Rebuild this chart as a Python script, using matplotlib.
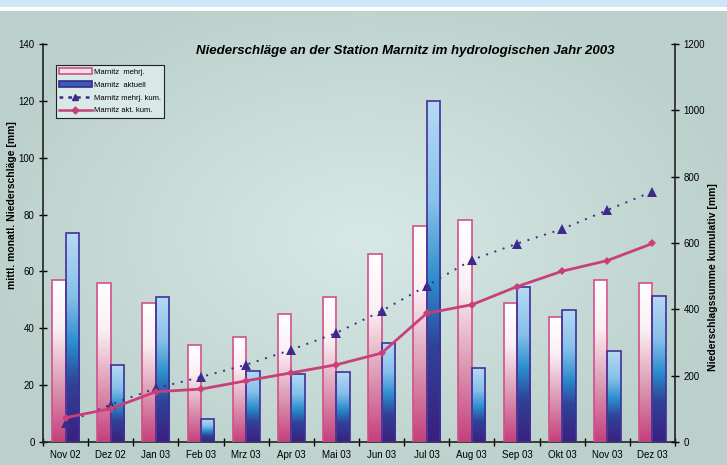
import numpy as np
import matplotlib
matplotlib.use("Agg")
import matplotlib.pyplot as plt
from matplotlib.colors import LinearSegmentedColormap
from matplotlib.patches import Patch, Rectangle
from matplotlib.lines import Line2D

plt.rcParams['font.family'] = ['Liberation Sans', 'DejaVu Sans']

months = ["Nov 02", "Dez 02", "Jan 03", "Feb 03", "Mrz 03", "Apr 03", "Mai 03",
          "Jun 03", "Jul 03", "Aug 03", "Sep 03", "Okt 03", "Nov 03", "Dez 03"]
mehrj = [57, 56, 49, 34, 37, 45, 51, 66, 76, 78, 49, 44, 57, 56]
aktuell = [73.5, 27, 51, 8, 25, 24, 24.5, 35, 120, 26, 54.5, 46.5, 32, 51.5]
mehrj_kum = [57, 113, 162, 196, 233, 278, 329, 395, 471, 549, 598, 642, 699, 755]
akt_kum = [73.5, 100.5, 151.5, 159.5, 184.5, 208.5, 233, 268, 388, 414, 468.5, 515, 547, 598.5]

title = "Niederschläge an der Station Marnitz im hydrologischen Jahr 2003"

W, H = 727, 465
fig = plt.figure(figsize=(W / 100, H / 100), dpi=100)

# background: light blue band, white line, grey-green gradient
bg = fig.add_axes([0, 0, 1, 1], zorder=-10)
bg.set_xlim(0, W)
bg.set_ylim(H, 0)
bg.axis("off")
xx, yy = np.meshgrid(np.linspace(-1, 1, 300), np.linspace(-1, 1, 200))
r = np.clip(np.sqrt((xx * 0.95) ** 2 + (yy * 0.9) ** 2), 0, 1)
c_out = np.array([0.737, 0.816, 0.800])
c_in = np.array([0.843, 0.914, 0.902])
img = c_in[None, None, :] * (1 - r[..., None]) + c_out[None, None, :] * r[..., None]
bg.imshow(img, extent=(0, W, H, 11), aspect="auto", interpolation="bilinear")
bg.add_patch(Rectangle((0, 0), W, 7.5, color="#cde6f8", lw=0))
bg.add_patch(Rectangle((0, 7.5), W, 3.5, color="#ffffff", lw=0))

ax = fig.add_axes([43 / W, 1 - 442 / H, (675 - 43) / W, (442 - 44) / H])
ax.patch.set_alpha(0)
ax2 = ax.twinx()

x = np.arange(len(months))
bw = 0.297
pink_cmap = LinearSegmentedColormap.from_list(
    "pk", [(0, "#c43f7c"), (0.35, "#dc9ab3"), (0.7, "#faf0f3"), (1, "#ffffff")])
blue_cmap = LinearSegmentedColormap.from_list(
    "bl", [(0, "#3b1f7f"), (0.28, "#2f4398"), (0.47, "#2a8ccc"), (0.7, "#86c0ea"), (1, "#b6d9f3")])

bars1 = ax.bar(x - bw / 2, mehrj, bw, facecolor="none", edgecolor="#d2508a", lw=1.2, zorder=3)
bars2 = ax.bar(x + bw / 2, aktuell, bw, facecolor="none", edgecolor="#40309a", lw=1.2, zorder=3)
grad = np.linspace(0, 1, 256).reshape(-1, 1)
for bars, cmap in ((bars1, pink_cmap), (bars2, blue_cmap)):
    for b in bars:
        x0, y0 = b.get_x(), b.get_y()
        im = ax.imshow(grad, cmap=cmap, origin="lower", aspect="auto",
                       extent=(x0, x0 + b.get_width(), y0, y0 + b.get_height()),
                       interpolation="bilinear", zorder=2)
        im.set_clip_path(b)

ax.set_xlim(-0.5, len(months) - 0.5)
ax.set_ylim(0, 140)
ax.set_yticks(range(0, 141, 20))
ax.set_xticks(x)
ax.set_xticklabels(months)
ax.set_xticks(np.arange(-0.5, len(months) + 0.5, 1), minor=True)
ax.tick_params(axis="x", which="major", length=0, labelsize=7, pad=6)
ax.tick_params(axis="x", which="minor", direction="inout", length=6, width=1)
ax.tick_params(axis="y", direction="inout", length=6, width=1, labelsize=7, pad=3)
for s in ("top", "right"):
    ax.spines[s].set_visible(False)
for s in ("left", "bottom"):
    ax.spines[s].set_linewidth(1.2)
    ax.spines[s].set_color("#222222")

ax2.plot(x, mehrj_kum, ls=(0, (1, 3.5)), lw=1.4, color="#3d2a8a",
         marker="^", ms=7, markeredgewidth=0, zorder=4)
ax2.plot(x, akt_kum, ls="-", lw=2, color="#c8407a",
         marker="D", ms=4, markeredgewidth=0, zorder=5)
ax2.set_ylim(0, 1200)
ax2.set_yticks(range(0, 1201, 200))
ax2.tick_params(axis="y", direction="inout", length=6, width=1, labelsize=7, pad=3)
for s in ("top", "left", "bottom"):
    ax2.spines[s].set_visible(False)
ax2.spines["right"].set_linewidth(1.2)
ax2.spines["right"].set_color("#222222")

handles = [
    Patch(facecolor="#f6dde6", edgecolor="#d2508a", lw=1.2),
    Patch(facecolor="#3a5cb8", edgecolor="#3b2a8a", lw=1.2),
    Line2D([], [], ls=(0, (1.5, 2)), lw=1.8, color="#3d2a8a", marker="^", ms=5),
    Line2D([], [], ls="-", lw=1.8, color="#c8407a", marker="D", ms=3.5),
]
labels = ["Marnitz  mehrj.", "Marnitz  aktuell", "Marnitz mehrj. kum.", "Marnitz akt. kum."]
leg = ax2.legend(handles, labels, loc="upper left", bbox_to_anchor=(0.02, 0.947),
                 borderaxespad=0, fontsize=5.5, fancybox=False, framealpha=1,
                 handlelength=4.3, handleheight=0.8, labelspacing=0.7,
                 borderpad=0.4, handletextpad=0.3)
leg.get_frame().set_facecolor("#d9e9e7")
leg.get_frame().set_edgecolor("#222222")
leg.get_frame().set_linewidth(0.8)

fig.text(405 / W, 1 - 51 / H, title, ha="center", va="center",
         fontsize=9.5, fontweight="bold", fontstyle="italic")
fig.text(12 / W, 1 - 205 / H, "mittl. monatl. Niederschläge [mm]", rotation=90,
         ha="center", va="center", fontsize=7.5, fontweight="bold")
fig.text(713 / W, 1 - 277 / H, "Niederschlagssumme kumulativ [mm]", rotation=90,
         ha="center", va="center", fontsize=7.5, fontweight="bold")

fig.savefig("out.png", dpi=100)
